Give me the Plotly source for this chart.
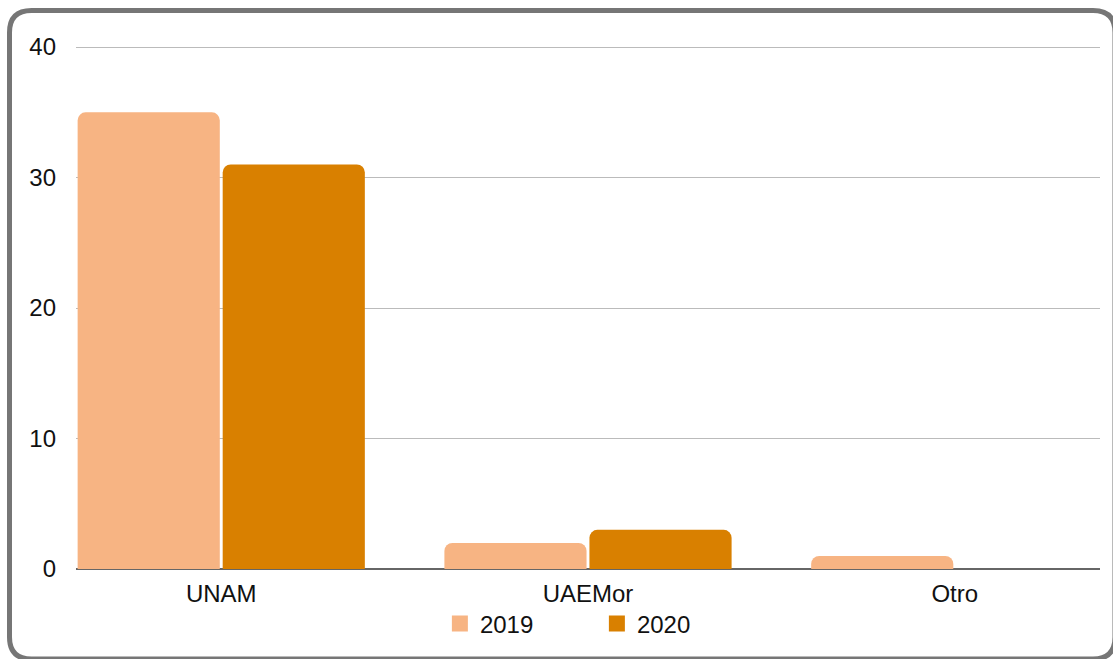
import plotly.graph_objects as go

categories = ["UNAM", "UAEMor", "Otro"]
series_names = ["2019", "2020"]
values_2019 = [35, 2, 1]
values_2020 = [31, 3, 0]
y_ticks = [0, 10, 20, 30, 40]
colors = ["#f7b483", "#d98000"]

W, H = 1113, 659
L, R, T, B = 76, 13, 46, 90
pw, ph = W - L - R, H - T - B

def px(x):
    return (x - L) / pw

def py(y):
    return (H - B - y) / ph

fig = go.Figure()
for name, vals, col in zip(series_names, [values_2019, values_2020], colors):
    fig.add_trace(go.Bar(x=categories, y=vals, name=name, marker_color=col,
                         marker_line_width=0, showlegend=False))
    fig.add_trace(go.Scatter(x=[None], y=[None], mode="markers", name=name,
                             marker=dict(symbol="square", size=24, color=col),
                             showlegend=True))

# rounded outer border (partly cropped at right and bottom, as in the reference)
x0, x1, y0, y1, r = px(9.5), px(1115), py(10.5), py(659), 22
rx, ry = r / pw, r / ph
path = (f"M {x0+rx},{y0} L {x1-rx},{y0} Q {x1},{y0} {x1},{y0-ry} "
        f"L {x1},{y1+ry} Q {x1},{y1} {x1-rx},{y1} L {x0+rx},{y1} "
        f"Q {x0},{y1} {x0},{y1+ry} L {x0},{y0-ry} Q {x0},{y0} {x0+rx},{y0} Z")
fig.add_shape(type="path", path=path, xref="paper", yref="paper",
              line=dict(color="#767676", width=5), layer="above")

fig.update_layout(
    width=W, height=H,
    margin=dict(l=L, r=R, t=T, b=B, pad=0, autoexpand=False),
    paper_bgcolor="white", plot_bgcolor="white",
    barmode="group", bargap=0.209, bargroupgap=0.02, barcornerradius=8,
    font=dict(family="Liberation Sans, Arial, sans-serif", size=24, color="#111"),
    xaxis=dict(range=[-0.396, 2.396], showgrid=False, showline=False,
               ticks="", ticklabelstandoff=8, fixedrange=True),
    yaxis=dict(range=[0, 40.08], tickvals=y_ticks, showgrid=True, gridcolor="#bbbbbb",
               gridwidth=1, zeroline=True, zerolinecolor="#666666", zerolinewidth=1.5,
               showline=False, ticks="", ticklabelstandoff=19, fixedrange=True),
    legend=dict(orientation="h", x=px(445) - 0.005, y=py(624), xanchor="left", yanchor="middle",
                font=dict(size=24), itemsizing="trace", entrywidth=112,
                bgcolor="rgba(0,0,0,0)"),
)

fig.write_html(
    "out.html",
    config={"displayModeBar": False},
    post_script=(
        "document.documentElement.style.cssText='margin:0;padding:0;height:659px;overflow:hidden';"
        "document.body.style.cssText='margin:0;padding:0;height:659px;overflow:hidden';"
    ),
)
